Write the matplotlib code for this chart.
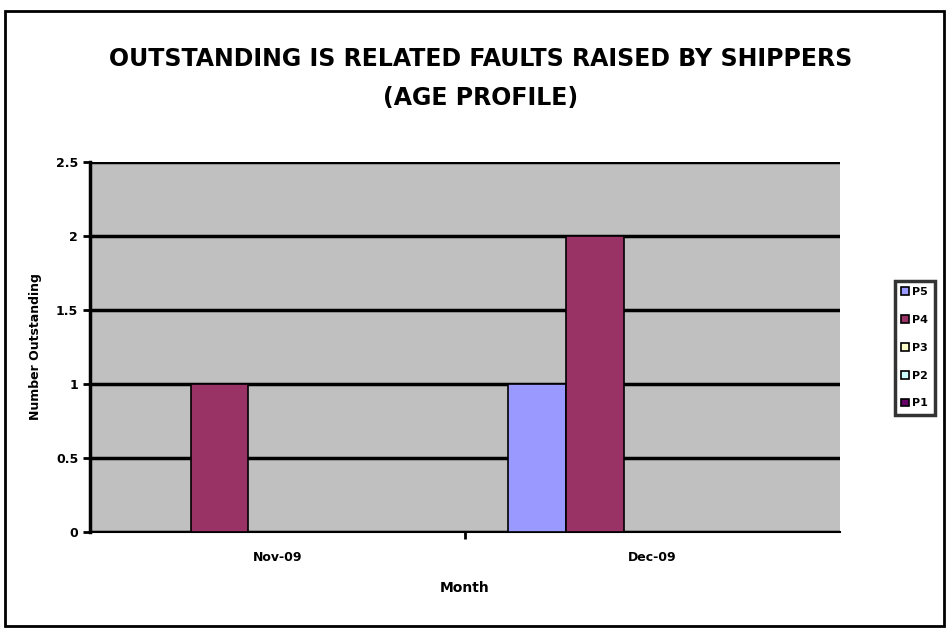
import matplotlib.pyplot as plt
import numpy as np
from matplotlib.patches import Rectangle

months = ['Nov-09', 'Dec-09']
series = ['P5', 'P4', 'P3', 'P2', 'P1']
values = {
    'P5': [0, 1],
    'P4': [1, 2],
    'P3': [0, 0],
    'P2': [0, 0],
    'P1': [0, 0],
}
colors = ['#9999FF', '#993366', '#FFFFCC', '#CCFFFF', '#660066']

fig = plt.figure(figsize=(9.47, 6.30), dpi=100)
fig.patches.append(Rectangle((0.005, 0.006), 0.992, 0.977, transform=fig.transFigure,
                             fill=False, edgecolor='black', linewidth=2))

ax = fig.add_axes([0.095, 0.156, 0.792, 0.587])
ax.set_facecolor('#C0C0C0')

x = np.arange(len(months))
bw = 1 / 6.47
offsets = (np.arange(len(series)) - 2) * bw
for i, s in enumerate(series):
    ax.bar(x + offsets[i], values[s], width=bw, color=colors[i],
           edgecolor='black', linewidth=1.2, label=s, zorder=3)

ax.set_xlim(-0.5, 1.5)
ax.set_ylim(0, 2.5)
ax.set_yticks([0, 0.5, 1, 1.5, 2, 2.5])
ax.set_yticklabels(['0', '0.5', '1', '1.5', '2', '2.5'], fontsize=9, fontweight='bold')
ax.yaxis.grid(True, color='black', linewidth=2.5, zorder=1)
ax.set_axisbelow(True)
ax.set_xticks(x)
ax.set_xticklabels(months, fontsize=9, fontweight='bold')
ax.tick_params(axis='x', length=0, pad=14)
ax.set_xticks([0.5], minor=True)
ax.tick_params(axis='x', which='minor', length=5, width=2, direction='out')
ax.tick_params(axis='y', length=5, width=2, direction='out')

for side in ['top', 'right']:
    ax.spines[side].set_visible(False)
ax.spines['left'].set_linewidth(2.5)
ax.spines['bottom'].set_linewidth(1.5)

ax.set_xlabel('Month', fontsize=10, fontweight='bold', labelpad=12)
ax.set_ylabel('Number Outstanding', fontsize=9, fontweight='bold', labelpad=10)

fig.text(0.507, 0.907, 'OUTSTANDING IS RELATED FAULTS RAISED BY SHIPPERS',
         ha='center', va='center', fontsize=17, fontweight='bold')
fig.text(0.507, 0.845, '(AGE PROFILE)', ha='center', va='center',
         fontsize=17, fontweight='bold')

leg = fig.legend(loc='center', bbox_to_anchor=(0.966, 0.448),
                 prop={'weight': 'bold', 'size': 8}, frameon=True, fancybox=False,
                 handlelength=0.7, handleheight=0.7, handletextpad=0.3,
                 labelspacing=1.6, borderpad=0.6)
leg.get_frame().set_edgecolor('black')
leg.get_frame().set_linewidth(2.5)

fig.savefig('out.png', dpi=100)
